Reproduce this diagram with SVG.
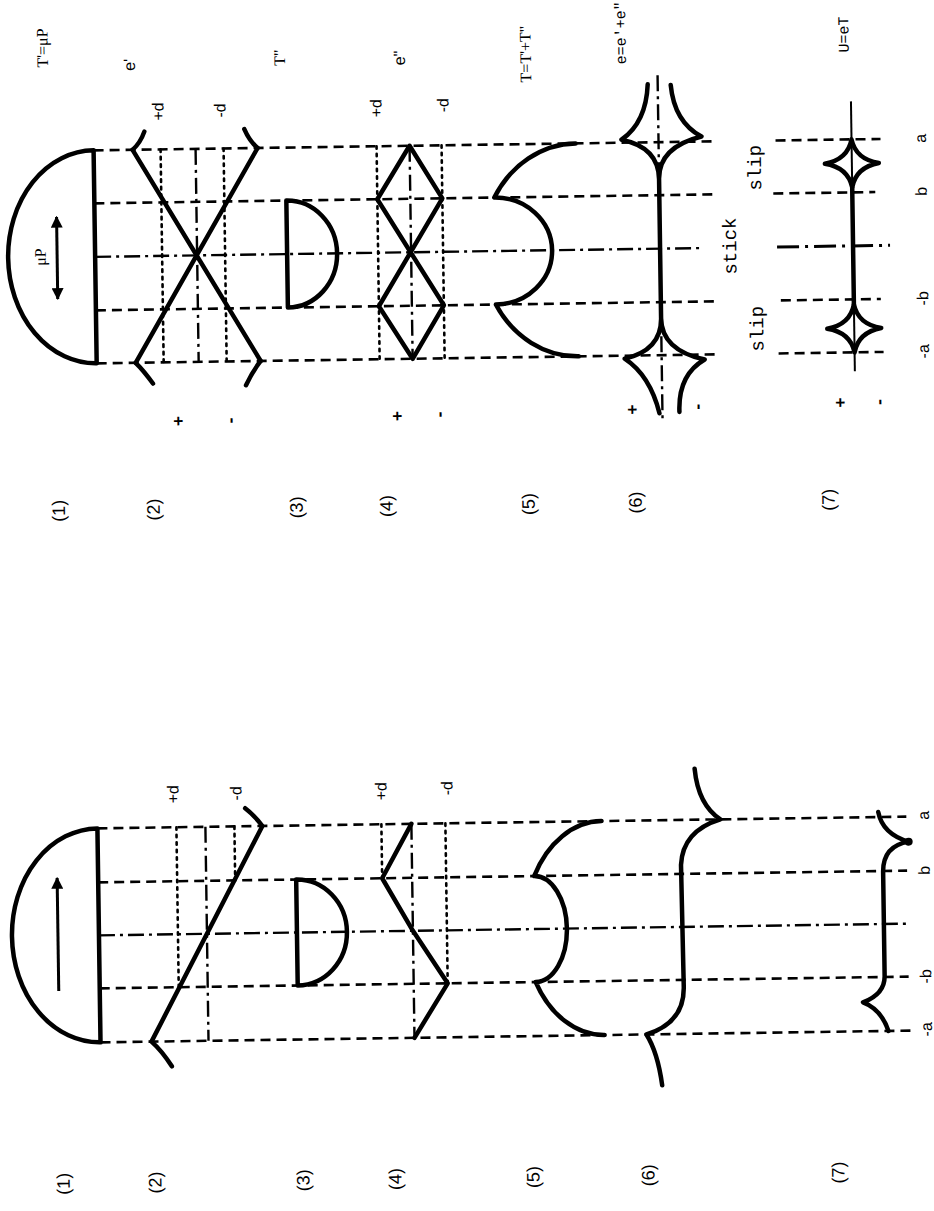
<svg xmlns="http://www.w3.org/2000/svg" width="934" height="1211" viewBox="0 0 934 1211">
<style>
.bg{fill:#fff}
.thick{fill:none;stroke:#000;stroke-width:4.5;stroke-linecap:round;stroke-linejoin:round}
.thin{fill:none;stroke:#000;stroke-width:2}
.dash{fill:none;stroke:#000;stroke-width:2.6;stroke-dasharray:10 6}
.dot{fill:none;stroke:#000;stroke-width:2.6;stroke-dasharray:2.5 5;stroke-linecap:round}
.dd{fill:none;stroke:#000;stroke-width:2.4;stroke-dasharray:16 5 3 5}
.ddk{fill:none;stroke:#000;stroke-width:3;stroke-dasharray:22 6 3 6}
text{fill:#000;text-anchor:middle;dominant-baseline:central}
.s{font-family:"Liberation Sans",Arial,sans-serif;font-size:16px}
.n{font-family:"Liberation Sans",Arial,sans-serif;font-size:18px}
.r{font-family:"Liberation Serif","Times New Roman",serif;font-size:16px}
.m{font-family:"Liberation Mono","Courier New",monospace;font-size:15px}
.ml{font-family:"Liberation Mono","Courier New",monospace;font-size:19px}
.pm{font-family:"Liberation Sans",Arial,sans-serif;font-size:17px;font-weight:bold}
</style>
<defs>
<marker id="ah" viewBox="0 0 10 10" refX="9" refY="5" markerWidth="4" markerHeight="4" orient="auto-start-reverse">
<path d="M0,0 L10,5 L0,10 Z" fill="#000"/>
</marker>
</defs>
<rect class="bg" x="0" y="0" width="934" height="1211"/>

<g id="page" transform="rotate(-0.83 467 590)">

<!-- ================= UPPER FIGURE ================= -->
<g id="upper" transform="translate(5 0)">
<g id="upper-connectors">
<path class="dash" d="M95,145 H713 M95,198 H713 M95,305 H713 M95,358 H713"/>
<path class="dd" d="M95,251.5 H703"/>
<path class="dash" d="M777,145 H882 M774,198 H876 M780,305 H880 M777,358 H882"/>
<path class="ddk" d="M777,251.5 H890"/>
<path class="dd" d="M197,145 V358"/>
<path class="dot" d="M162,145 V358 M225,145 V358"/>
<path class="dd" d="M411,145 V358"/>
<path class="dot" d="M378,145 V358 M443,145 V358"/>
<path class="dd" d="M660,78 V423"/>
<path class="thin" d="M853,107 V377"/>
</g>

<g id="u-row1">
<path class="thick" d="M95,145 A87,106.5 0 0 0 95,358 Z"/>
<line x1="57" y1="293" x2="57" y2="211" stroke="#000" stroke-width="3" marker-start="url(#ah)" marker-end="url(#ah)"/>
<text class="r" transform="translate(40,251) rotate(-90)">μP</text>
<text class="r" transform="translate(45,42) rotate(-90)">T'=μP</text>
<text class="n" transform="translate(55,505) rotate(-90)">(1)</text>
</g>

<g id="u-row2">
<path class="thick" d="M134,145 L259,358 M259,145 L134,358"/>
<path class="thick" d="M134,145 Q142,138 146,127 M259,145 Q251,138 246,126 M134,358 Q142,366 151,379 M259,358 Q251,368 244,382"/>
<text class="s" transform="translate(132,60) rotate(-90)">e'</text>
<text class="s" transform="translate(160,107) rotate(-90)">+d</text>
<text class="s" transform="translate(222,107) rotate(-90)">-d</text>
<text class="pm" transform="translate(176,417) rotate(-90)">+</text>
<text class="pm" transform="translate(228,417) rotate(-90)">-</text>
<text class="n" transform="translate(150,505) rotate(-90)">(2)</text>
</g>

<g id="u-row3">
<path class="thick" d="M287,198 A50,53.5 0 0 1 287,305 Z"/>
<text class="r" transform="translate(282,55) rotate(-90)">T"</text>
<text class="n" transform="translate(293,505) rotate(-90)">(3)</text>
</g>

<g id="u-row4">
<path class="thick" d="M378,198 L411,145 L443,198 L378,305 L411,358 L443,305 L378,198"/>
<text class="s" transform="translate(402,57) rotate(-90)">e"</text>
<text class="s" transform="translate(378,107) rotate(-90)">+d</text>
<text class="s" transform="translate(445,105) rotate(-90)">-d</text>
<text class="pm" transform="translate(395,415) rotate(-90)">+</text>
<text class="pm" transform="translate(437,414) rotate(-90)">-</text>
<text class="n" transform="translate(383,505) rotate(-90)">(4)</text>
</g>

<g id="u-row5">
<path class="thick" d="M577,145 A95,106.5 0 0 0 495,198 A57,53.5 0 0 1 495,305 A95,106.5 0 0 0 577,358"/>
<text class="r" transform="translate(528,55) rotate(-90)">T=T'+T"</text>
<text class="n" transform="translate(525,505) rotate(-90)">(5)</text>
</g>

<g id="u-row6">
<path class="thick" d="M650,87 Q648,125 623,142 Q660,150 660,182 M673,88 Q676,125 703,140 Q660,150 660,182 L660,321 Q660,353 623,361 Q648,378 657,416 M660,321 Q660,353 703,363 Q676,378 677,415"/>
<text class="m" transform="translate(625,35) rotate(-90)">e=e'+e"</text>
<text class="pm" transform="translate(630,412) rotate(-90)">+</text>
<text class="pm" transform="translate(695,410) rotate(-90)">-</text>
<text class="n" transform="translate(632,505) rotate(-90)">(6)</text>
</g>

<g id="u-row7">
<path class="thick" d="M853,193 L853,310"/>
<path class="thick" d="M853,145 Q857,165 880,169 Q857,173 853,193 Q849,173 826,169 Q849,165 853,145 Z"/>
<path class="thick" d="M853,310 Q857,330 880,334 Q857,338 853,358 Q849,338 826,334 Q849,330 853,310 Z"/>
<text class="m" transform="translate(848,40) rotate(-90)">U=eT</text>
<text class="ml" transform="translate(731,250) rotate(-90)">stick</text>
<text class="ml" transform="translate(757,172) rotate(-90)">slip</text>
<text class="ml" transform="translate(757,333) rotate(-90)">slip</text>
<text class="pm" transform="translate(838,408) rotate(-90)">+</text>
<text class="pm" transform="translate(877,408) rotate(-90)">-</text>
<text class="n" transform="translate(825,505) rotate(-90)">(7)</text>
</g>

<g id="u-axis-labels">
<text class="s" transform="translate(922,145) rotate(-90)">a</text>
<text class="s" transform="translate(922,198) rotate(-90)">b</text>
<text class="s" transform="translate(922,305) rotate(-90)">-b</text>
<text class="s" transform="translate(922,358) rotate(-90)">-a</text>
</g>
</g>

<!-- ================= LOWER FIGURE ================= -->
<g id="lower" transform="translate(-5 0)">
<g id="lower-connectors">
<path class="dash" d="M99,823 H908 M99,877 H908 M99,983 H908 M99,1037 H912"/>
<path class="dd" d="M99,930 H910"/>
<path class="dd" d="M207,823 V1037"/>
<path class="dot" d="M178,823 V983 M236,823 V877"/>
<path class="dd" d="M413,823 V1037"/>
<path class="dot" d="M383,823 V877 M447,823 V983"/>
</g>

<g id="l-row1">
<path class="thick" d="M99,823 A87,107 0 0 0 99,1037 Z"/>
<line x1="58" y1="985" x2="58" y2="872" stroke="#000" stroke-width="3" marker-end="url(#ah)"/>
<text class="n" transform="translate(60,1178) rotate(-90)">(1)</text>
</g>

<g id="l-row2">
<path class="thick" d="M247,805 Q256,812 264,823 L150,1037 Q160,1046 170,1062"/>
<text class="s" transform="translate(175,790) rotate(-90)">+d</text>
<text class="s" transform="translate(238,790) rotate(-90)">-d</text>
<text class="n" transform="translate(152,1178) rotate(-90)">(2)</text>
</g>

<g id="l-row3">
<path class="thick" d="M297,877 A50,53 0 0 1 297,983 Z"/>
<text class="n" transform="translate(300,1178) rotate(-90)">(3)</text>
</g>

<g id="l-row4">
<path class="thick" d="M413,823 L383,877 L413,930 L447,983 L413,1037"/>
<text class="s" transform="translate(383,790) rotate(-90)">+d</text>
<text class="s" transform="translate(449,788) rotate(-90)">-d</text>
<text class="n" transform="translate(392,1178) rotate(-90)">(4)</text>
</g>

<g id="l-row5">
<path class="thick" d="M603,823 A78.5,107 0 0 0 535,877 A32,53 0 0 1 535,983 A78.5,107 0 0 0 603,1037"/>
<text class="n" transform="translate(530,1178) rotate(-90)">(5)</text>
</g>

<g id="l-row6">
<path class="thick" d="M697,772 Q700,808 722,823 Q684,834 682,868 L683,990 Q683,1026 645,1037 Q656,1055 660,1088"/>
<text class="n" transform="translate(645,1178) rotate(-90)">(6)</text>
</g>

<g id="l-row7">
<path class="thick" d="M880,818 Q884,840 910,848 Q884,852 884,878 L884,982 Q884,1000 862,1008 Q880,1015 887,1037"/>
<circle cx="910" cy="848" r="4" fill="#000"/>
<text class="n" transform="translate(835,1178) rotate(-90)">(7)</text>
</g>

<g id="l-axis-labels">
<text class="s" transform="translate(925,822) rotate(-90)">a</text>
<text class="s" transform="translate(925,877) rotate(-90)">b</text>
<text class="s" transform="translate(925,983) rotate(-90)">-b</text>
<text class="s" transform="translate(925,1036) rotate(-90)">-a</text>
</g>
</g>

</g>
</svg>
